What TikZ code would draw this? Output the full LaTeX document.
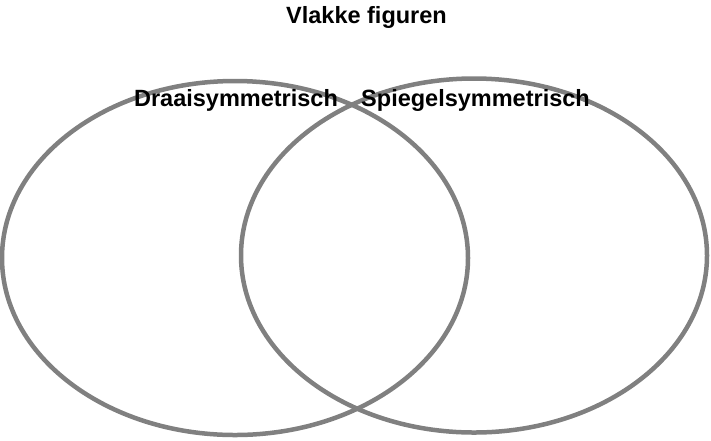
\documentclass[tikz,border=0pt]{standalone}
\usepackage{fontspec}
\setmainfont{Liberation Sans}
\usepackage{tikz}
\usetikzlibrary{calc}

\begin{document}
\begin{tikzpicture}[x=1pt, y=-1pt, font=\bfseries\fontsize{23.5}{26}\selectfont]

	% Constants
	\def\rx{233}
	\def\ry{177}
	\tikzset{setline/.style={draw=black!50, line width=4.5pt}}

	\useasboundingbox (0,0) rectangle (711,440);

	% === SETS ===
	\draw[setline] (235,258) ellipse ({\rx} and {\ry});
	\draw[setline] (474,255.5) ellipse ({\rx} and {\ry});

	% === LABELS ===
	\node[anchor=base] (title) at (366.5,23) {Vlakke figuren};
	\node[anchor=base] (draai) at (236,106) {Draaisymmetrisch};
	\node[anchor=base] (spiegel) at (475.5,106) {Spiegelsymmetrisch};

\end{tikzpicture}
\end{document}
